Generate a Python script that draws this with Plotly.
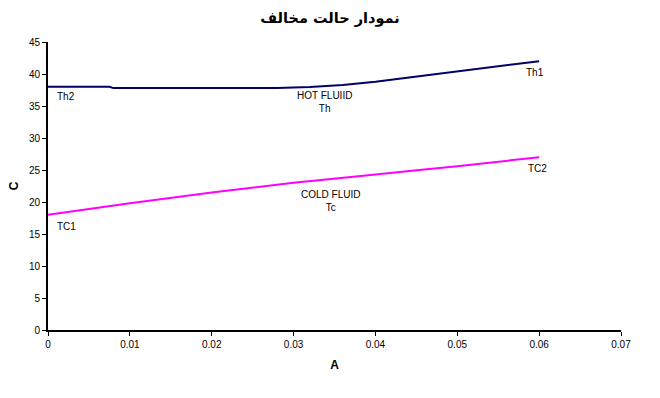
import plotly.graph_objects as go

hot_x = [0.0, 0.0075, 0.008, 0.028, 0.032, 0.036, 0.04, 0.045, 0.05, 0.055, 0.06]
hot_y = [38.0, 38.0, 37.8, 37.8, 37.95, 38.3, 38.8, 39.6, 40.4, 41.2, 42.0]
cold_x = [0.0, 0.01, 0.02, 0.03, 0.04, 0.05, 0.06]
cold_y = [18.0, 19.8, 21.5, 23.0, 24.3, 25.6, 27.0]

labels = [
    dict(x=0.0008, y=36.5, text="Th2"),
    dict(x=0.0595, y=40.2, text="Th1"),
    dict(x=0.0338, y=35.6, text="HOT FLUIID<br>Th"),
    dict(x=0.0345, y=20.2, text="COLD FLUID<br>Tc"),
    dict(x=0.0008, y=16.2, text="TC1"),
    dict(x=0.0598, y=25.2, text="TC2"),
]

fig = go.Figure()
fig.add_trace(go.Scatter(x=hot_x, y=hot_y, mode="lines", line=dict(color="#000066", width=2), showlegend=False))
fig.add_trace(go.Scatter(x=cold_x, y=cold_y, mode="lines", line=dict(color="#FF00FF", width=2, shape="spline"), showlegend=False))

for lb in labels:
    xa = "left" if lb["text"] in ("Th2", "TC1") else "center"
    fig.add_annotation(x=lb["x"], y=lb["y"], text=lb["text"], showarrow=False, xanchor=xa,
                       font=dict(family="Liberation Sans, Arial", size=10, color="black"))

fig.update_layout(
    width=660, height=398,
    margin=dict(l=46, r=39, t=42, b=68),
    paper_bgcolor="white", plot_bgcolor="white",
    title=dict(text="<b>نمودار حالت مخالف</b>", x=0.5, xanchor="center", y=0.955, yanchor="middle",
               font=dict(family="DejaVu Sans", size=14.5, color="black")),
    font=dict(family="Liberation Sans, Arial", size=10, color="black"),
)
fig.update_xaxes(range=[0, 0.07], dtick=0.01, tick0=0, showline=True, linecolor="black", linewidth=2,
                 ticks="outside", ticklen=4, tickcolor="black", showgrid=False, zeroline=False,
                 title=dict(text="<b>A</b>", font=dict(size=12), standoff=12))
fig.update_yaxes(range=[0, 45], dtick=5, tick0=0, showline=True, linecolor="black", linewidth=2,
                 ticks="outside", ticklen=4, tickcolor="black", showgrid=False, zeroline=False,
                 title=dict(text="<b>C</b>", font=dict(size=12), standoff=8))

fig.write_html("out.html")
